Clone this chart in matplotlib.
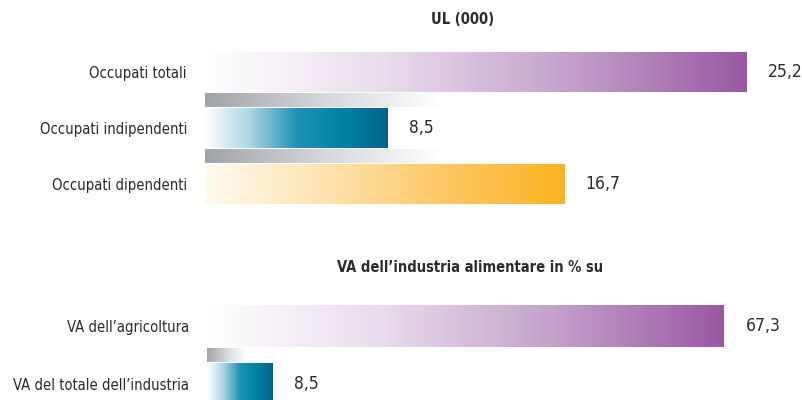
import matplotlib
matplotlib.use("Agg")
import matplotlib.pyplot as plt
import numpy as np
from matplotlib.colors import LinearSegmentedColormap

# Dati
ul_labels = ["Occupati totali", "Occupati indipendenti", "Occupati dipendenti"]
ul_values = [25.2, 8.5, 16.7]
va_labels = ["VA dell\u2019agricoltura", "VA del totale dell\u2019industria"]
va_values = [67.3, 8.5]

title_ul = "UL (000)"
title_va = "VA dell\u2019industria alimentare in % su"

# Colori (gradiente da bianco)
cm_purple = LinearSegmentedColormap.from_list("p", ["#ffffff", "#e9dcec", "#c4a2cb", "#9a58a2"])
cm_blue = LinearSegmentedColormap.from_list("b", ["#ffffff", "#a9d3e3", "#1e93b5", "#0082a5", "#006689"])
cm_orange = LinearSegmentedColormap.from_list("o", ["#fffaf0", "#fde3b0", "#fdc765", "#fbb21e"])
cm_gray = LinearSegmentedColormap.from_list("g", ["#a2a3a8", "#d6d7d9", "#ffffff"])

plt.rcParams['font.family'] = ['DejaVu Sans']
plt.rcParams['font.stretch'] = 'condensed'
txt_color = "#2b2b2b"

fig = plt.figure(figsize=(8.03, 4.0), dpi=100)

grad = np.linspace(0, 1, 256).reshape(1, -1)


def gradient_bar(ax, y, w, h, cmap):
    ax.imshow(grad, cmap=cmap, aspect="auto", extent=[0, w, y + h / 2, y - h / 2],
              interpolation="bilinear", zorder=2)


def panel(ax, labels, values, cmaps, shadow_len, xmax, bar_h, shadow_h):
    n = len(values)
    pos = np.arange(n)
    for i, (v, cm) in enumerate(zip(values, cmaps)):
        gradient_bar(ax, pos[i], v, bar_h, cm)
        ax.annotate(f"{v:.1f}".replace(".", ","), (v, pos[i]), xytext=(15.5, 0),
                    textcoords="offset points", va="center", ha="left",
                    fontsize=12.5, color=txt_color, annotation_clip=False)
    for i in range(n - 1):
        gradient_bar(ax, pos[i] + 0.5, shadow_len, shadow_h, cm_gray)
    ax.set_xlim(0, xmax)
    ax.set_ylim(n - 0.5, -0.5)
    ax.set_yticks(pos)
    ax.set_yticklabels(labels, fontsize=10.6, color=txt_color)
    ax.tick_params(axis="y", length=0, pad=13)
    ax.set_xticks([])
    for s in ax.spines.values():
        s.set_visible(False)
    ax.patch.set_alpha(0)


W, H = 803.0, 400.0
# pannello superiore
ax1 = fig.add_axes([205 / W, 1 - 212 / H, 559 / W, 168 / H])
panel(ax1, ul_labels, ul_values, [cm_purple, cm_blue, cm_orange], 11, 26, 40 / 56, 14 / 56)

# pannello inferiore
ax2 = fig.add_axes([207 / W, 1 - 413 / H, 537 / W, 116 / H])
panel(ax2, va_labels, va_values, [cm_purple, cm_blue], 5, 537 / 7.68, 42 / 58, 14 / 58)

fig.text(463 / W, 1 - 20 / H, title_ul, ha="center", va="center", fontsize=10.5,
         fontweight="bold", color=txt_color)
fig.text(470 / W, 1 - 268 / H, title_va, ha="center", va="center", fontsize=10.5,
         fontweight="bold", color=txt_color)

fig.savefig("out.png", dpi=100)
